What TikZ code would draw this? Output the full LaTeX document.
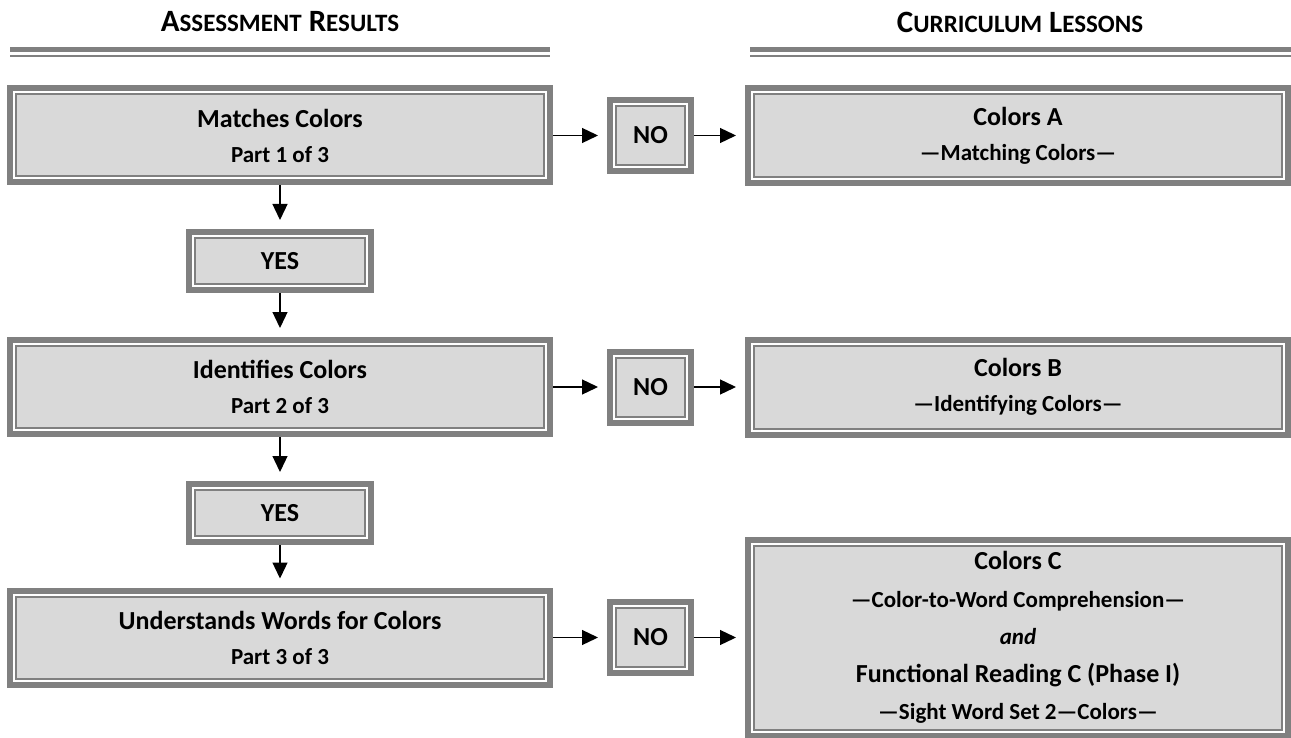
\documentclass[tikz,border=0pt]{standalone}
\usepackage{fontspec}
\setmainfont{Carlito}
\usetikzlibrary{arrows.meta}
\definecolor{boxgray}{RGB}{128,128,128}
\definecolor{boxfill}{RGB}{217,217,217}
\newcommand{\boxfont}{\fontsize{26}{35}\selectfont\bfseries}
\newcommand{\subfont}{\fontsize{23}{35}\selectfont\bfseries}
\newcommand{\capword}[2]{{\fontsize{31}{31}\selectfont #1}{\fontsize{25}{25}\selectfont #2}}
\begin{document}
\begin{tikzpicture}[x=1pt,y=-1pt,->,>={Triangle[length=16pt,width=15pt]},line width=1.3pt,shorten >=9pt,
		every node/.style={inner sep=0pt,outer sep=9pt,align=center},
		frame/.style={draw=boxgray,fill=boxfill,line width=2pt,
			preaction={draw=boxgray,line width=18pt},
			preaction={draw=white,line width=6pt}},
		testbox/.style={frame,minimum width=528pt,minimum height=82pt,font=\boxfont},
		answer/.style={frame,minimum width=170pt,minimum height=46pt,font=\boxfont},
		nobox/.style={frame,minimum width=69pt,minimum height=59pt,font=\boxfont},
		lesson/.style={frame,minimum width=528pt,minimum height=83pt,font=\boxfont}]
	\useasboundingbox (0,0) rectangle (1291,738);
	% headers
	\node[font=\bfseries] (hleft) at (280,22) {\capword{A}{SSESSMENT}\hspace{7pt}\capword{R}{ESULTS}};
	\node[font=\bfseries] (hright) at (1020,22) {\capword{C}{URRICULUM}\hspace{7pt}\capword{L}{ESSONS}};
	\fill[boxgray] (10,47.5) rectangle (550,52.5);
	\fill[boxgray] (10,55.5) rectangle (550,57);
	\fill[boxgray] (750,47.5) rectangle (1291,52.5);
	\fill[boxgray] (750,55.5) rectangle (1291,57);
	% assessment column
	\node[testbox] (match) at (280,135.5) {Matches Colors\\{\subfont Part 1 of 3}};
	\node[answer] (yes1) at (280,261) {YES};
	\node[testbox] (ident) at (280,387) {Identifies Colors\\{\subfont Part 2 of 3}};
	\node[answer] (yes2) at (280,513) {YES};
	\node[testbox] (words) at (280,637.5) {Understands Words for Colors\\{\subfont Part 3 of 3}};
	% no answers
	\node[nobox] (no1) at (650.5,135.5) {NO};
	\node[nobox] (no2) at (650.5,387) {NO};
	\node[nobox] (no3) at (650.5,637.5) {NO};
	% lessons column
	\node[lesson] (lessA) at (1018,135.5) {Colors A\\{\subfont ---Matching Colors---}};
	\node[lesson] (lessB) at (1018,387) {Colors B\\{\subfont ---Identifying Colors---}};
	\node[lesson,minimum height=184pt,font=\fontsize{26}{37.5}\selectfont\bfseries] (lessC) at (1018,637.5)
		{Colors C\\{\subfont ---Color-to-Word Comprehension---}\\{\subfont\itshape and}\\
		Functional Reading C (Phase I)\\{\subfont ---Sight Word Set 2---Colors---}};
	% arrows
	\draw (match) -- (yes1);
	\draw (yes1) -- (ident);
	\draw (ident) -- (yes2);
	\draw (yes2) -- (words);
	\draw (match) -- (no1);
	\draw (no1) -- (lessA);
	\draw (ident) -- (no2);
	\draw (no2) -- (lessB);
	\draw (words) -- (no3);
	\draw (no3) -- (lessC);
\end{tikzpicture}
\end{document}
